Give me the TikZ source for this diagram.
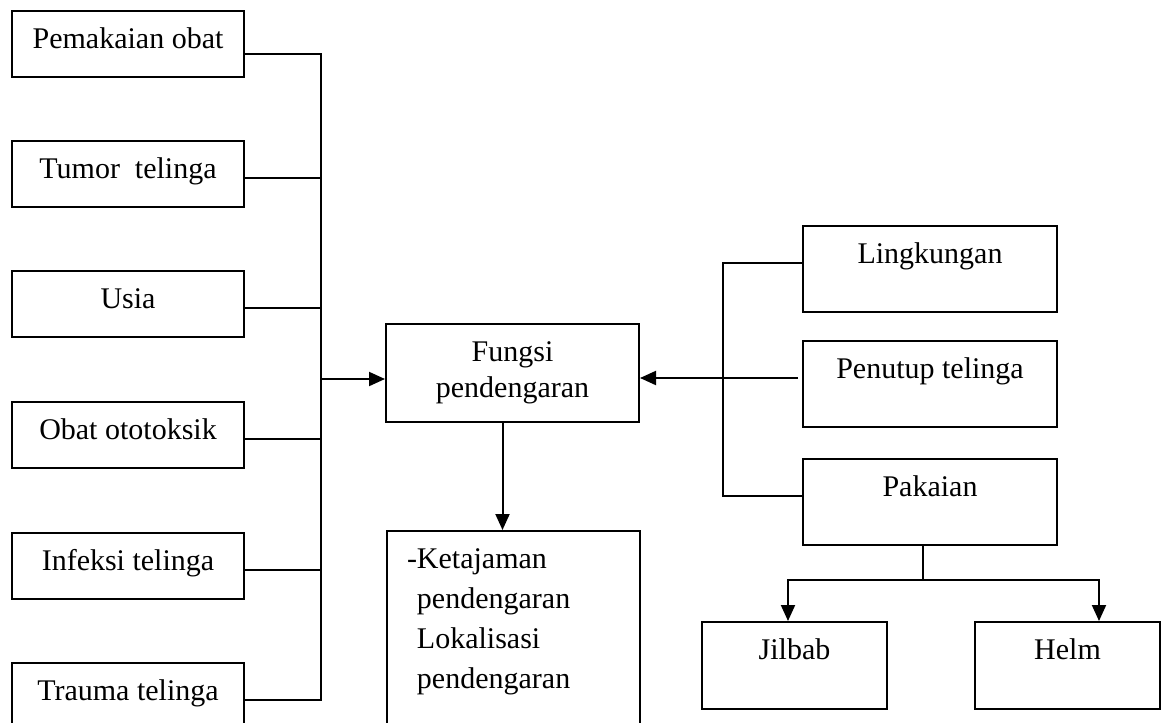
\documentclass[tikz,border=0pt]{standalone}
\usepackage{fontspec}
\setmainfont{Liberation Serif}
\usetikzlibrary{arrows.meta}
\tikzset{
	kotak/.style={draw, line width=1pt, inner xsep=0pt, inner ysep=0pt, anchor=north west, text height=18.5pt, font=\fontsize{15pt}{20pt}\selectfont},
	kiri/.style={kotak, minimum width=116pt, text depth=14.5pt},
	kanan/.style={kotak, minimum width=127pt, text depth=24.5pt},
	bawah/.style={kotak, minimum width=92.5pt, text depth=25pt},
}
\begin{document}
\begin{tikzpicture}[x=0.5pt,y=-0.5pt,line width=1pt,>={Triangle[length=8pt,width=7pt]}]
	\useasboundingbox (0,0) rectangle (1168,723);
	
	\begin{scope}
		\node[kiri] (obat) at (11,10) {Pemakaian obat};
		\node[kiri] (tumor) at (11,140) {Tumor\ \ telinga};
		\node[kiri] (usia) at (11,270) {Usia};
		\node[kiri] (ototoksik) at (11,401) {Obat ototoksik};
		\node[kiri] (infeksi) at (11,532) {Infeksi telinga};
		\node[kiri] (trauma) at (11,662) {Trauma telinga};
	\end{scope}
	
	\node[draw, minimum width=126.5pt, minimum height=49pt, align=center, font=\fontsize{15pt}{18pt}\selectfont] (fungsi) at (512.5,373) {Fungsi\\pendengaran};
	\node[kotak, inner xsep=10pt, text depth=96.5pt] (hasil) at (386,530) {\begin{tabular}[t]{@{}p{106.5pt}@{}}-Ketajaman\\\phantom{-}pendengaran\\\phantom{-}Lokalisasi\\\phantom{-}pendengaran\end{tabular}};
	
	\begin{scope}
		\node[kanan] (lingkungan) at (802,225) {Lingkungan};
		\node[kanan] (penutup) at (802,340) {Penutup telinga};
		\node[kanan] (pakaian) at (802,458) {Pakaian};
		\node[bawah] (jilbab) at (701,621) {Jilbab};
		\node[bawah] (helm) at (974,621) {Helm};
	\end{scope}
	
	\coordinate (bus) at (321,0);
	\coordinate (kurung) at (723,0);
	\coordinate (cabang) at (923,580);
	
	\begin{scope}
		\draw ([yshift=-3pt]obat.base east) -- ([yshift=-3pt]obat.base east -| bus) -- (trauma.base east -| bus) -- (trauma.base east);
		\draw (tumor.base east) -- (tumor.base east -| bus);
		\draw (usia.base east) -- (usia.base east -| bus);
		\draw (ototoksik.base east) -- (ototoksik.base east -| bus);
		\draw (infeksi.base east) -- (infeksi.base east -| bus);
		\draw[->] ([yshift=-3pt]fungsi.west -| bus) -- ([yshift=-3pt]fungsi.west);
		\draw[->] ([xshift=-5pt]fungsi.south) -- ([xshift=-5pt]fungsi.south |- hasil.north);
	\end{scope}
	
	\begin{scope}
		\draw (lingkungan.base west) -- (lingkungan.base west -| kurung) -- (pakaian.base west -| kurung) -- (pakaian.base west);
		\draw[->] ([xshift=-2pt]penutup.base west) -- (penutup.base west -| fungsi.east);
		\draw (pakaian.south -| cabang) -- (cabang);
		\draw[->] (cabang) -| ([xshift=-3.25pt]jilbab.north);
		\draw[->] (cabang) -| ([xshift=15.75pt]helm.north);
	\end{scope}
\end{tikzpicture}
\end{document}
